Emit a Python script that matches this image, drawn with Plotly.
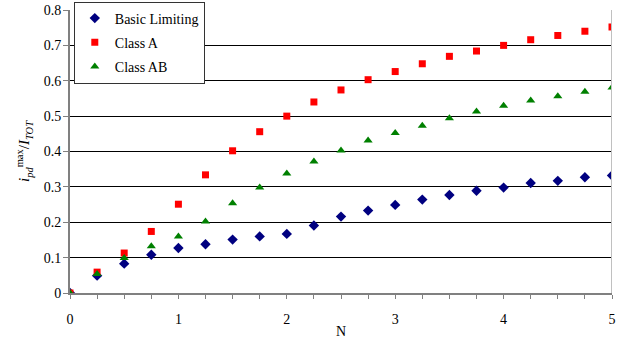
import plotly.graph_objects as go

N = [0, 0.25, 0.5, 0.75, 1.0, 1.25, 1.5, 1.75, 2.0, 2.25, 2.5, 2.75, 3.0,
     3.25, 3.5, 3.75, 4.0, 4.25, 4.5, 4.75, 5.0]
basic = [0, 0.049, 0.083, 0.108, 0.127, 0.138, 0.151, 0.160, 0.167, 0.191, 0.216,
         0.233, 0.249, 0.264, 0.277, 0.289, 0.298, 0.311, 0.317, 0.327, 0.332]
class_a = [0, 0.059, 0.113, 0.174, 0.251, 0.334, 0.402, 0.456, 0.500, 0.540, 0.574,
           0.603, 0.626, 0.648, 0.669, 0.684, 0.700, 0.716, 0.728, 0.740, 0.752]
class_ab = [0, 0.054, 0.099, 0.132, 0.160, 0.202, 0.254, 0.298, 0.338, 0.372, 0.403,
            0.431, 0.452, 0.473, 0.494, 0.513, 0.529, 0.544, 0.556, 0.569, 0.581]

names = ["Basic Limiting", "Class A", "Class AB"]
x_ticks = [0, 1, 2, 3, 4, 5]
y_ticks = [0, 0.1, 0.2, 0.3, 0.4, 0.5, 0.6, 0.7, 0.8]
y_tick_text = ["0", "0.1", "0.2", "0.3", "0.4", "0.5", "0.6", "0.7", "0.8"]

FONT = "Times New Roman, Liberation Serif, serif"

fig = go.Figure()
fig.add_trace(go.Scatter(x=N, y=basic, mode="markers", name=names[0], legendgroup="a",
                         marker=dict(symbol="diamond", size=8, color="#000080")))
fig.add_trace(go.Scatter(x=N, y=class_a, mode="markers", name=names[1], legendgroup="b",
                         marker=dict(symbol="square", size=7, color="#FF0000")))
fig.add_trace(go.Scatter(x=N, y=class_ab, mode="markers", name=names[2], legendgroup="c",
                         marker=dict(symbol="triangle-up", size=8, color="#008000")))

fig.update_layout(
    width=631, height=339,
    margin=dict(l=70, r=19, t=10, b=46, autoexpand=False),
    paper_bgcolor="white", plot_bgcolor="white",
    font=dict(family=FONT, size=14, color="black"),
    showlegend=True,
    legend=dict(x=0.007, y=1.03, xanchor="left", yanchor="top",
                bgcolor="white", bordercolor="#333333", borderwidth=1,
                font=dict(family=FONT, size=14), traceorder="grouped",
                tracegroupgap=3, itemwidth=30),
    xaxis=dict(range=[0, 5], tickvals=x_ticks, showgrid=False, zeroline=False,
               showline=True, linecolor="#808080", linewidth=2,
               ticks="outside", ticklen=4, tickcolor="#808080",
               ticklabelstandoff=8,
               minor=dict(dtick=0.25, ticks="outside", ticklen=4, tickcolor="#808080"),
               title=dict(text="N", standoff=2, font=dict(family=FONT, size=14))),
    yaxis=dict(range=[0, 0.8], tickvals=y_ticks, ticktext=y_tick_text,
               showgrid=True, gridcolor="black", gridwidth=1, zeroline=False,
               showline=True, linecolor="#808080", linewidth=2,
               ticks="outside", ticklen=5, tickcolor="#808080",
               ticklabelstandoff=-1,
               title=dict(text="<i>i</i><sub><i>pd</i></sub><sup>max</sup>/<i>I</i><sub><i>TOT</i></sub>",
                          standoff=10, font=dict(family=FONT, size=15))),
    shapes=[dict(type="line", xref="x", yref="paper", x0=5, x1=5, y0=0, y1=1,
                 line=dict(color="#C0C0C0", width=2))],
)

fig.write_html("out.html", config={"displayModeBar": False},
               post_script="document.body.style.margin='0';")
